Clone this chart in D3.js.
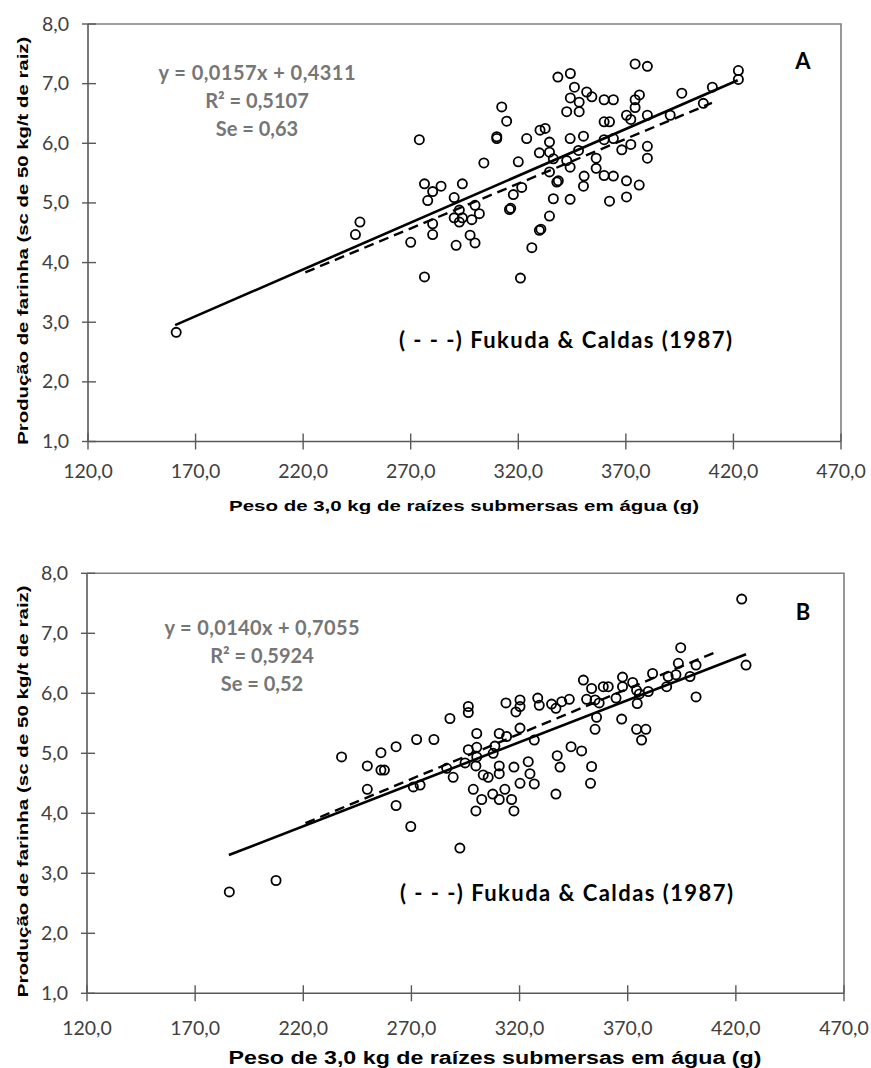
<!DOCTYPE html>
<html>
<head>
<meta charset="utf-8">
<script src="https://cdn.jsdelivr.net/npm/d3@7"></script>
<style>
  body { margin: 0; background: #fff; }
  svg { display: block; }
  .tick-label { font-family: Lato, "Open Sans", sans-serif; font-size: 19.5px; fill: #404040; }
  .axis-title { font-family: "Liberation Sans", Arial, sans-serif; font-weight: bold; font-size: 15px; fill: #000; }
  .eq { font-family: Lato, "Open Sans", sans-serif; font-weight: bold; font-size: 20px; fill: #767676; }
  .note { font-family: Lato, "Open Sans", sans-serif; font-weight: bold; font-size: 22px; fill: #000; }
  .panel-id { font-family: Lato, "Open Sans", sans-serif; font-weight: bold; font-size: 22px; fill: #000; }
</style>
</head>
<body>
<script>
(function(){

//tick values shared by both panels
var xTicks = [120, 170, 220, 270, 320, 370, 420, 470];
var yTicks = [1, 2, 3, 4, 5, 6, 7, 8];

//panel A observations [weight in water (g), flour yield]
var dataA = [
  [161.0, 2.83], [244.3, 4.47], [246.4, 4.68], [270.0, 4.34], [274.0, 6.06],
  [276.4, 5.32], [276.4, 3.76], [277.9, 5.04], [280.2, 5.19], [280.2, 4.65],
  [280.2, 4.47], [284.1, 5.28], [290.2, 5.09], [290.2, 4.75], [291.1, 4.29],
  [292.6, 4.88], [292.6, 4.68], [294.0, 5.32], [294.0, 4.75], [297.6, 4.46],
  [298.4, 4.72], [299.9, 4.96], [299.9, 4.33], [301.9, 4.82], [304.0, 5.67],
  [310.0, 6.08], [310.0, 6.11], [312.3, 6.61], [314.6, 6.37], [315.9, 4.89],
  [316.5, 4.91], [317.7, 5.14], [320.0, 5.69], [321.0, 3.74], [321.6, 5.26],
  [323.9, 6.08], [326.3, 4.25], [329.8, 5.84], [329.8, 4.54], [330.5, 4.56],
  [330.1, 6.22], [332.5, 6.25], [334.5, 6.02], [334.5, 5.85], [334.5, 5.52],
  [334.5, 4.78], [336.3, 5.74], [336.3, 5.07], [337.9, 5.35], [338.6, 5.37],
  [338.4, 7.11], [342.5, 6.53], [342.5, 5.71], [344.1, 6.08], [344.1, 5.60],
  [344.1, 5.06], [344.2, 7.17], [344.2, 6.76], [346.1, 6.94], [348.3, 6.69],
  [348.3, 6.53], [348.0, 5.88], [350.3, 6.12], [350.6, 5.45], [350.3, 5.28],
  [351.8, 6.86], [354.2, 6.78], [356.2, 5.75], [356.2, 5.58], [359.9, 6.73],
  [359.9, 6.36], [359.9, 6.06], [359.9, 5.46], [362.4, 6.36], [362.4, 5.03],
  [364.2, 6.73], [364.2, 6.08], [364.2, 5.45], [368.1, 5.89], [370.3, 6.47],
  [370.3, 5.37], [370.3, 5.10], [372.3, 6.40], [372.3, 5.98], [374.3, 7.33],
  [374.3, 6.73], [374.3, 6.60], [376.3, 6.81], [376.2, 5.30], [380.0, 7.29],
  [380.0, 6.47], [380.0, 5.95], [380.0, 5.75], [390.6, 6.47], [396.0, 6.84],
  [406.0, 6.67], [410.2, 6.94], [422.3, 7.22], [422.3, 7.07]
];

//panel B observations
var dataB = [
  [185.8, 2.69], [207.4, 2.88], [237.7, 4.94], [249.6, 4.79], [249.6, 4.40],
  [255.9, 5.01], [255.9, 4.72], [257.5, 4.72], [262.9, 5.11], [262.9, 4.13],
  [269.7, 3.78], [270.9, 4.44], [272.4, 5.23], [274.0, 4.47], [280.4, 5.23],
  [286.3, 4.75], [287.8, 5.58], [289.3, 4.60], [292.4, 3.42], [294.8, 4.84],
  [296.3, 5.78], [296.3, 5.68], [296.3, 5.06], [298.6, 4.40], [299.8, 4.79],
  [299.8, 4.04], [300.2, 5.33], [300.2, 5.10], [300.2, 4.94], [302.5, 4.23],
  [303.2, 4.64], [305.5, 4.60], [307.6, 4.32], [307.8, 5.00], [308.6, 5.12],
  [310.6, 5.33], [310.6, 4.79], [310.6, 4.66], [310.6, 4.23], [313.2, 4.40],
  [313.7, 5.84], [314.0, 5.28], [316.3, 4.23], [317.4, 4.77], [317.4, 4.04],
  [318.3, 5.69], [320.2, 5.89], [320.2, 5.78], [320.2, 5.42], [320.2, 4.50],
  [324.0, 4.86], [324.8, 4.66], [326.8, 5.22], [326.8, 4.49], [328.4, 5.92],
  [329.1, 5.80], [334.8, 5.82], [336.8, 5.75], [336.8, 4.32], [337.4, 4.96],
  [338.7, 4.77], [339.5, 5.86], [343.0, 5.90], [343.8, 5.11], [348.7, 5.04],
  [349.5, 6.22], [351.0, 5.90], [352.8, 4.50], [353.3, 6.08], [353.3, 4.78],
  [354.9, 5.89], [354.9, 5.40], [355.6, 5.60], [356.8, 5.84], [358.7, 6.11],
  [361.0, 6.11], [364.6, 5.92], [367.2, 5.57], [367.6, 6.27], [367.6, 6.11],
  [372.3, 6.18], [374.1, 6.05], [374.1, 5.40], [374.4, 5.83], [375.4, 5.99],
  [376.4, 5.22], [378.4, 5.40], [379.5, 6.03], [381.5, 6.33], [388.0, 6.11],
  [388.7, 6.28], [392.3, 6.31], [393.4, 6.50], [394.5, 6.76], [398.8, 6.28],
  [401.6, 6.47], [401.6, 5.94], [422.7, 7.57], [424.7, 6.47]
];

//fitted lines [slope, intercept] and their x ranges
var fitA = [0.0157, 0.4311], fitRangeA = [160.5, 422];
var fitB = [0.0140, 0.7055], fitRangeB = [185.6, 424.7];
var fukuda = [0.01503, 0.514], fukudaRange = [221, 410];

//equation labels
var eqA = ["y = 0,0157x + 0,4311", "R² = 0,5107", "Se = 0,63"];
var eqB = ["y = 0,0140x + 0,7055", "R² = 0,5924", "Se = 0,52"];

var yTitle = "Produção de farinha (sc de 50 kg/t de raiz)";
var xTitle = "Peso de 3,0 kg de raízes submersas em água (g)";
var noteText = "( - - -) Fukuda & Caldas (1987)";

var width = 871, height = 1068;

var svg = d3.select("body")
    .append("svg")
    .attr("width", width)
    .attr("height", height);

drawPanel({
  left: 88, right: 841, top: 24, bottom: 441.5,
  data: dataA, fit: fitA, fitRange: fitRangeA, eq: eqA, id: "A",
  eqX: 257, eqY: 80, eqLen: 197, idY: 69, noteX: 399, noteY: 348,
  xLabY: 478, xTitleX: 464, xTitleY: 511, xTitleLen: 470, xTitleSize: 15,
  yTitleX: 28, yTitleLen: 408
});

drawPanel({
  left: 87, right: 844, top: 573.3, bottom: 993.3,
  data: dataB, fit: fitB, fitRange: fitRangeB, eq: eqB, id: "B",
  eqX: 262, eqY: 635, eqLen: 195, idY: 620, noteX: 400, noteY: 901,
  xLabY: 1035, xTitleX: 495, xTitleY: 1064, xTitleLen: 533, xTitleSize: 18,
  yTitleX: 28, yTitleLen: 412
});

function fmt(v){
  return d3.format(".1f")(v).replace(".", ",");
};

function drawPanel(p){
  var x = d3.scaleLinear().domain([120, 470]).range([p.left, p.right]);
  var y = d3.scaleLinear().domain([1, 8]).range([p.bottom, p.top]);

  var g = svg.append("g");

  //top and right frame lines
  g.append("path")
      .attr("d", "M" + p.left + "," + p.top + "H" + p.right + "V" + p.bottom)
      .attr("fill", "none")
      .attr("stroke", "#7f7f7f")
      .attr("stroke-width", 1.6);

  //y axis with ticks crossing the axis line
  g.append("line")
      .attr("x1", p.left).attr("x2", p.left)
      .attr("y1", p.top).attr("y2", p.bottom)
      .attr("stroke", "#595959").attr("stroke-width", 1.6);

  g.selectAll(".ytick")
      .data(yTicks)
      .enter()
      .append("line")
      .attr("x1", p.left - 6).attr("x2", p.left + 8)
      .attr("y1", function(d){ return y(d); })
      .attr("y2", function(d){ return y(d); })
      .attr("stroke", "#595959").attr("stroke-width", 1.4);

  g.selectAll(".ylab")
      .data(yTicks)
      .enter()
      .append("text")
      .attr("class", "tick-label")
      .attr("x", p.left - 19)
      .attr("y", function(d){ return y(d) + 6.5; })
      .attr("text-anchor", "end")
      .text(fmt);

  //x axis
  g.append("line")
      .attr("x1", p.left).attr("x2", p.right)
      .attr("y1", p.bottom).attr("y2", p.bottom)
      .attr("stroke", "#595959").attr("stroke-width", 1.6);

  g.selectAll(".xtick")
      .data(xTicks)
      .enter()
      .append("line")
      .attr("x1", function(d){ return x(d); })
      .attr("x2", function(d){ return x(d); })
      .attr("y1", p.bottom - 8).attr("y2", p.bottom + 8)
      .attr("stroke", "#595959").attr("stroke-width", 1.4);

  g.selectAll(".xlab")
      .data(xTicks)
      .enter()
      .append("text")
      .attr("class", "tick-label")
      .attr("x", function(d){ return x(d); })
      .attr("y", p.xLabY)
      .attr("text-anchor", "middle")
      .text(fmt);

  //axis titles
  g.append("text")
      .attr("class", "axis-title")
      .attr("x", p.xTitleX)
      .attr("y", p.xTitleY)
      .attr("text-anchor", "middle")
      .style("font-size", p.xTitleSize + "px")
      .attr("textLength", p.xTitleLen)
      .attr("lengthAdjust", "spacingAndGlyphs")
      .text(xTitle);

  var yMid = (p.top + p.bottom) / 2 + 8;
  g.append("text")
      .attr("class", "axis-title")
      .attr("transform", "translate(" + p.yTitleX + "," + yMid + ") rotate(-90)")
      .attr("text-anchor", "middle")
      .attr("textLength", p.yTitleLen)
      .attr("lengthAdjust", "spacingAndGlyphs")
      .text(yTitle);

  //fitted line of this data set
  var line = d3.line()
      .x(function(d){ return x(d); })
      .y(function(d){ return y(p.fit[0] * d + p.fit[1]); });

  g.append("path")
      .datum(p.fitRange)
      .attr("d", line)
      .attr("fill", "none")
      .attr("stroke", "#000")
      .attr("stroke-width", 2.6);

  //Fukuda & Caldas reference line
  var refLine = d3.line()
      .x(function(d){ return x(d); })
      .y(function(d){ return y(fukuda[0] * d + fukuda[1]); });

  g.append("path")
      .datum(fukudaRange)
      .attr("d", refLine)
      .attr("fill", "none")
      .attr("stroke", "#000")
      .attr("stroke-width", 2.4)
      .attr("stroke-dasharray", "10,6");

  //observations as open circles
  g.selectAll(".pt")
      .data(p.data)
      .enter()
      .append("circle")
      .attr("class", "pt")
      .attr("cx", function(d){ return x(d[0]); })
      .attr("cy", function(d){ return y(d[1]); })
      .attr("r", 4.6)
      .attr("fill", "none")
      .attr("stroke", "#000")
      .attr("stroke-width", 1.8);

  //equation block, first line stretched to the reference width
  g.selectAll(".eq")
      .data(p.eq)
      .enter()
      .append("text")
      .attr("class", "eq")
      .attr("x", p.eqX)
      .attr("y", function(d, i){ return p.eqY + i * 28; })
      .attr("text-anchor", "middle")
      .attr("textLength", function(d, i){ return i == 0 ? p.eqLen : null; })
      .text(function(d){ return d; });

  //panel letter
  g.append("text")
      .attr("class", "panel-id")
      .attr("x", 803)
      .attr("y", p.idY)
      .attr("text-anchor", "middle")
      .text(p.id);

  //reference note
  g.append("text")
      .attr("class", "note")
      .attr("x", p.noteX)
      .attr("y", p.noteY)
      .attr("textLength", 333)
      .text(noteText);
};

})();
</script>
</body>
</html>
